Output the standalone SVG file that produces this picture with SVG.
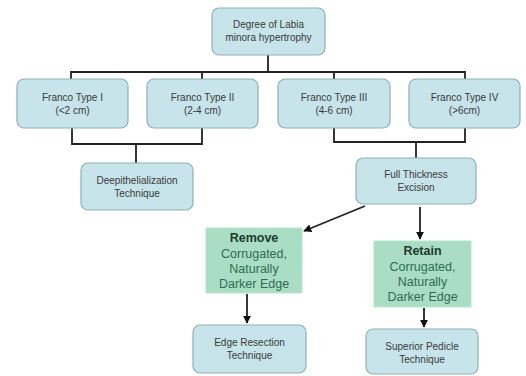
<svg xmlns="http://www.w3.org/2000/svg" width="526" height="376" viewBox="0 0 526 376">
<defs>
<style>
.b{fill:#c6e4ea;stroke:#8fb0b8;stroke-width:1.2}
.g{fill:#a9dec4;stroke:#b8e6cf;stroke-width:1}
.t{font-family:"Liberation Sans",Arial,sans-serif;font-size:10px;fill:#3a3a3a;text-anchor:middle}
.gt{font-family:"Liberation Sans",Arial,sans-serif;font-size:12.5px;fill:#2f6b52;text-anchor:middle}
.gb{font-weight:bold;fill:#1e3a2e}
.c{fill:none;stroke:#222;stroke-width:1.8}
</style>
<marker id="ah" viewBox="0 0 10 10" refX="9" refY="5" markerWidth="4.5" markerHeight="4.5" orient="auto"><path d="M0,0L10,5L0,10z" fill="#111"/></marker>
</defs>
<rect width="526" height="376" fill="#fff"/>
<g id="connectors">
<path class="c" d="M268,55V72M71,79V72H465V79M202,72V79M334,72V79"/>
<path class="c" d="M72,128V144H202V128M136,144V163"/>
<path class="c" d="M334,128V142H465V128M416,142V158"/>
<path class="c" d="M365,206L304,231" marker-end="url(#ah)"/>
<path class="c" d="M420,207V239" marker-end="url(#ah)"/>
<path class="c" d="M247,294V323" marker-end="url(#ah)"/>
<path class="c" d="M424,308V327" marker-end="url(#ah)"/>
</g>
<g id="n-root"><rect class="b" x="212" y="8" width="113" height="47" rx="7"/><text class="t" x="268.5" y="28">Degree of Labia</text><text class="t" x="268.5" y="41">minora hypertrophy</text></g>
<g id="n-t1"><rect class="b" x="17" y="79" width="111" height="49" rx="7"/><text class="t" x="72.5" y="101">Franco Type I</text><text class="t" x="72.5" y="114">(&lt;2 cm)</text></g>
<g id="n-t2"><rect class="b" x="147" y="79" width="111" height="49" rx="7"/><text class="t" x="202.5" y="101">Franco Type II</text><text class="t" x="202.5" y="114">(2-4 cm)</text></g>
<g id="n-t3"><rect class="b" x="278" y="79" width="112" height="49" rx="7"/><text class="t" x="334" y="101">Franco Type III</text><text class="t" x="334" y="114">(4-6 cm)</text></g>
<g id="n-t4"><rect class="b" x="409" y="79" width="111" height="49" rx="7"/><text class="t" x="464.5" y="101">Franco Type IV</text><text class="t" x="464.5" y="114">(&gt;6cm)</text></g>
<g id="n-deep"><rect class="b" x="81" y="163" width="112" height="47" rx="7"/><text class="t" x="137" y="184">Deepithelialization</text><text class="t" x="137" y="197">Technique</text></g>
<g id="n-full"><rect class="b" x="356" y="158" width="120" height="46" rx="7"/><text class="t" x="416" y="178">Full Thickness</text><text class="t" x="416" y="191">Excision</text></g>
<g id="n-remove"><rect class="g" x="206" y="228" width="96" height="65"/><text class="gt gb" x="254" y="242">Remove</text><text class="gt" x="254" y="258">Corrugated,</text><text class="gt" x="254" y="273">Naturally</text><text class="gt" x="254" y="288">Darker Edge</text></g>
<g id="n-retain"><rect class="g" x="374" y="241" width="97" height="66"/><text class="gt gb" x="422.5" y="255">Retain</text><text class="gt" x="422.5" y="271">Corrugated,</text><text class="gt" x="422.5" y="286">Naturally</text><text class="gt" x="422.5" y="301">Darker Edge</text></g>
<g id="n-edge"><rect class="b" x="193" y="325" width="113" height="48" rx="7"/><text class="t" x="249.5" y="346">Edge Resection</text><text class="t" x="249.5" y="359">Technique</text></g>
<g id="n-sup"><rect class="b" x="366" y="329" width="112" height="45" rx="7"/><text class="t" x="422" y="350">Superior Pedicle</text><text class="t" x="422" y="363">Technique</text></g>
</svg>
